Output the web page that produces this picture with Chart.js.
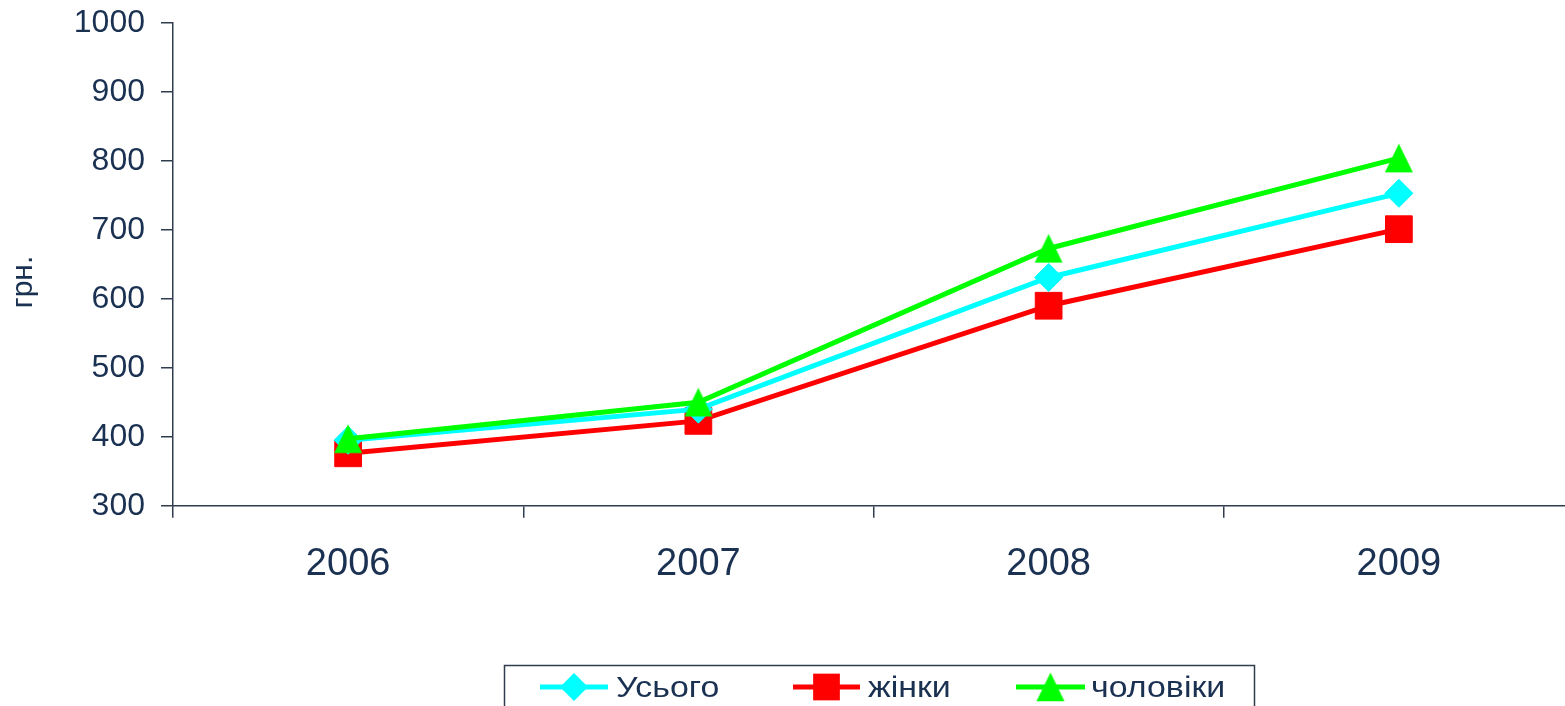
<!DOCTYPE html>
<html>
<head>
<meta charset="utf-8">
<script src="https://cdn.jsdelivr.net/npm/chart.js@4/dist/chart.umd.min.js"></script>
<style>
  html, body { margin: 0; padding: 0; background: #ffffff; overflow: hidden; }
  #wrap { position: relative; width: 1580px; height: 706px; }
  #c { display: block; }
</style>
</head>
<body>
<div id="wrap"><canvas id="c"></canvas></div>
<script>
// ---- data ----
const categories = ['2006', '2007', '2008', '2009'];
const seriesNames = ['Усього', 'жінки', 'чоловіки'];
const totalValues = [395, 440, 631, 753];
const womenValues = [376, 423, 590, 701];
const menValues = [397, 450, 673, 804];
const yTickMin = 300;
const yTickMax = 1000;
const yTickStep = 100;
const yAxisTitle = 'грн.';

// ---- styles ----
const FONT = '"Liberation Sans", Arial, sans-serif';
const TEXT = '#1b3152';
const AXIS = '#2f3d4f';
const CYAN = '#00ffff';
const RED = '#ff0000';
const GREEN = '#00ff00';

// triangle marker glyph (Excel-like: base at bottom, apex at top)
function makeTriangle(color) {
  const c = document.createElement('canvas');
  c.width = 30; c.height = 30;
  const g = c.getContext('2d');
  g.fillStyle = color;
  g.beginPath();
  g.moveTo(15, 0.6);
  g.lineTo(29, 29.3);
  g.lineTo(1, 29.3);
  g.closePath();
  g.fill();
  return c;
}
const triangle = makeTriangle(GREEN);

const styles = [
  { color: CYAN, pointStyle: 'rectRot', radius: 14, order: 1 },
  { color: RED, pointStyle: 'rect', radius: 18.9, order: 2 },
  { color: GREEN, pointStyle: triangle, radius: 15, order: 0 }
];
const seriesValues = [totalValues, womenValues, menValues];

const datasets = seriesNames.map((name, i) => ({
  label: name,
  data: seriesValues[i],
  borderColor: styles[i].color,
  backgroundColor: styles[i].color,
  borderWidth: 5,
  pointStyle: styles[i].pointStyle,
  pointRadius: styles[i].radius,
  pointHoverRadius: styles[i].radius,
  pointBackgroundColor: styles[i].color,
  pointBorderColor: styles[i].color,
  pointBorderWidth: 1,
  tension: 0,
  clip: false,
  order: styles[i].order
}));

// custom legend + y title
const decorPlugin = {
  id: 'decor',
  afterDraw(chart) {
    const ctx = chart.ctx;
    ctx.save();
    // y axis title
    ctx.translate(24, 282);
    ctx.rotate(-Math.PI / 2);
    ctx.fillStyle = TEXT;
    ctx.font = '30px ' + FONT;
    ctx.textAlign = 'center';
    ctx.textBaseline = 'middle';
    ctx.fillText(yAxisTitle, 0, 0);
    ctx.restore();

    // legend box
    ctx.save();
    ctx.strokeStyle = AXIS;
    ctx.lineWidth = 1.5;
    ctx.strokeRect(504.5, 665.5, 750, 80);
    const items = [
      { x0: 540, x1: 608, tx: 616 },
      { x0: 793, x1: 860, tx: 868 },
      { x0: 1016, x1: 1085, tx: 1091 }
    ];
    const cy = 687;
    items.forEach((it, i) => {
      const st = styles[i];
      const mx = (it.x0 + it.x1) / 2;
      ctx.strokeStyle = st.color;
      ctx.lineWidth = 5;
      ctx.beginPath();
      ctx.moveTo(it.x0, cy);
      ctx.lineTo(it.x1, cy);
      ctx.stroke();
      ctx.fillStyle = st.color;
      ctx.strokeStyle = st.color;
      ctx.lineWidth = 1;
      if (typeof st.pointStyle === 'string') {
        ctx.beginPath();
        if (st.pointStyle === 'rect') {
          const s = Math.SQRT1_2 * st.radius;
          ctx.rect(mx - s, cy - s, 2 * s, 2 * s);
        } else {
          const r = st.radius;
          ctx.moveTo(mx, cy - r); ctx.lineTo(mx + r, cy); ctx.lineTo(mx, cy + r); ctx.lineTo(mx - r, cy); ctx.closePath();
        }
        ctx.fill();
      } else {
        ctx.drawImage(st.pointStyle, mx - 15, cy - 15);
      }
      ctx.save();
      ctx.translate(it.tx, 697);
      ctx.scale(1.17, 1);
      ctx.fillStyle = TEXT;
      ctx.font = '29px ' + FONT;
      ctx.textAlign = 'left';
      ctx.textBaseline = 'alphabetic';
      ctx.fillText(seriesNames[i], 0, 0);
      ctx.restore();
    });
    ctx.restore();
  }
};

function zeroPad(scale) {
  scale.paddingTop = 0;
  scale.paddingBottom = 0;
  scale.paddingLeft = 0;
  scale.paddingRight = 0;
}

new Chart(document.getElementById('c'), {
  type: 'line',
  data: { labels: categories, datasets },
  plugins: [decorPlugin],
  options: {
    responsive: true,
    maintainAspectRatio: false,
    devicePixelRatio: 1,
    animation: false,
    events: [],
    layout: { autoPadding: false, padding: { top: 23, right: 6, bottom: 0, left: 0 } },
    plugins: {
      legend: { display: false },
      tooltip: { enabled: false },
      title: { display: false }
    },
    scales: {
      x: {
        type: 'category',
        offset: true,
        afterFit(scale) { scale.height = 706 - 505.7; zeroPad(scale); },
        grid: {
          offset: true,
          drawOnChartArea: false,
          drawTicks: true,
          tickLength: 12,
          color: AXIS,
          lineWidth: 1.5
        },
        border: { display: true, color: AXIS, width: 1.5 },
        ticks: {
          color: TEXT,
          font: { family: FONT, size: 38 },
          padding: 24,
          maxRotation: 0,
          autoSkip: false
        }
      },
      y: {
        min: yTickMin,
        max: yTickMax,
        afterFit(scale) { scale.width = 173; zeroPad(scale); },
        grid: {
          drawOnChartArea: false,
          drawTicks: true,
          tickLength: 12,
          color: AXIS,
          lineWidth: 1.5
        },
        border: { display: true, color: AXIS, width: 1.5 },
        ticks: {
          stepSize: yTickStep,
          color: TEXT,
          font: { family: FONT, size: 32 },
          padding: 16,
          callback: (v) => String(v)
        }
      }
    }
  }
});
</script>
</body>
</html>
